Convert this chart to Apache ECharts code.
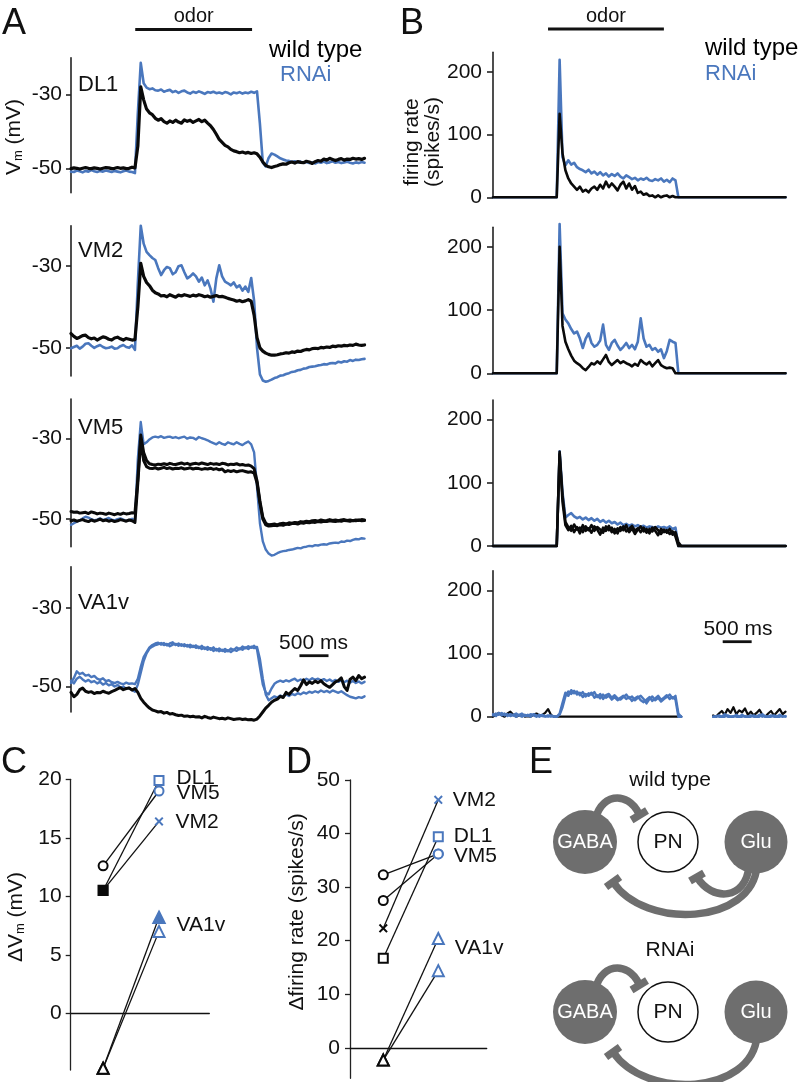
<!DOCTYPE html>
<html><head><meta charset="utf-8">
<script src="https://cdn.jsdelivr.net/npm/echarts@6/dist/echarts.min.js"></script>
<style>html,body{margin:0;padding:0;background:#fff}#c{width:799px;height:1082px}</style>
</head><body><div id="c"></div>
<script>
// ---------- DATA (sampled traces, 50 ms per sample) ----------
const A_TICKS = [-50, -30];
const B_TICKS = [0, 100, 200];
const C_TICKS = [0, 5, 10, 15, 20];
const D_TICKS = [0, 10, 20, 30, 40, 50];
const ROW_NAMES = ['DL1', 'VM2', 'VM5', 'VA1v'];

const A_DL1_WT = [
-50.1,-49.9,-50.0,-50.2,-50.0,-49.8,-50.0,-50.1,-49.9,-50.0,
-50.2,-50.0,-49.8,-49.9,-50.1,-50.0,-49.8,-50.0,-49.9,-50.1,
-50.0,-49.7,-49.9,-44.0,-28.0,-31.5,-34.0,-35.0,-35.5,-36.5,
-37.0,-36.6,-37.4,-37.8,-37.2,-37.6,-37.0,-37.5,-37.8,-36.9,
-37.3,-37.0,-37.6,-37.2,-36.8,-37.4,-37.0,-37.8,-38.5,-39.5,
-40.8,-42.2,-43.0,-43.8,-44.2,-44.9,-45.3,-45.5,-45.8,-45.6,
-45.9,-45.7,-46.0,-45.8,-46.1,-47.0,-48.3,-49.2,-49.6,-49.8,
-49.5,-49.3,-49.0,-48.8,-48.9,-48.5,-48.3,-48.6,-48.2,-48.4,
-48.5,-48.1,-48.3,-48.7,-48.2,-47.9,-48.1,-47.5,-47.8,-47.3,
-47.6,-47.9,-47.6,-47.4,-47.8,-47.5,-47.6,-47.3,-47.5,-47.4,
-47.6,-47.3];
const A_DL1_RNAI = [
-50.9,-51.0,-50.6,-50.8,-51.1,-50.7,-50.9,-50.5,-50.8,-51.0,
-50.7,-50.9,-50.6,-50.8,-51.0,-50.7,-50.9,-51.1,-50.8,-50.6,
-50.9,-51.0,-51.3,-35.0,-21.5,-27.0,-28.2,-28.6,-28.4,-28.9,
-29.0,-28.7,-29.3,-29.0,-28.8,-29.4,-29.1,-29.6,-29.2,-29.0,
-29.5,-29.8,-29.3,-29.6,-29.2,-29.5,-29.9,-29.4,-29.6,-29.3,
-29.7,-29.5,-29.8,-29.4,-29.6,-30.0,-29.5,-29.7,-29.4,-29.8,
-29.5,-29.7,-29.3,-29.6,-29.2,-38.0,-48.5,-49.5,-47.2,-46.0,
-46.3,-46.8,-47.3,-47.6,-47.9,-48.0,-48.3,-48.1,-48.4,-48.2,
-48.5,-48.3,-48.6,-48.4,-48.7,-48.3,-48.5,-48.2,-48.6,-48.4,
-48.1,-48.5,-48.3,-48.6,-48.4,-48.2,-48.5,-48.7,-48.4,-48.6,
-48.3,-48.5];
const A_VM2_WT = [
-46.5,-47.2,-47.7,-47.4,-47.0,-46.9,-47.5,-47.8,-47.6,-48.1,
-47.7,-47.3,-47.5,-47.9,-48.1,-47.6,-47.4,-47.8,-48.1,-47.7,
-47.9,-48.1,-48.0,-40.0,-29.3,-32.5,-34.0,-34.8,-35.9,-36.5,
-36.8,-37.3,-37.2,-37.5,-37.0,-37.3,-37.6,-37.1,-37.3,-37.0,
-37.2,-37.4,-37.1,-37.3,-37.0,-37.2,-37.5,-37.3,-37.6,-37.4,
-37.2,-37.5,-37.4,-37.6,-37.9,-38.1,-38.3,-38.6,-38.4,-38.7,
-38.5,-38.2,-38.6,-42.0,-47.5,-50.0,-50.8,-51.3,-51.6,-51.8,
-51.8,-51.7,-51.5,-51.4,-51.2,-51.3,-51.0,-51.1,-50.8,-50.9,
-50.6,-50.4,-50.5,-50.2,-50.1,-50.2,-49.9,-50.0,-49.8,-49.9,
-49.6,-49.7,-49.5,-49.6,-49.4,-49.5,-49.3,-49.4,-49.1,-49.3,
-49.4,-49.3];
const A_VM2_RNAI = [
-50.1,-49.8,-49.5,-50.2,-49.7,-49.0,-48.9,-49.5,-50.0,-49.6,
-49.3,-49.8,-50.1,-50.0,-49.7,-50.2,-50.1,-49.6,-49.3,-49.8,
-50.0,-49.4,-50.5,-34.0,-20.1,-24.5,-26.5,-27.3,-28.0,-28.5,
-30.5,-32.2,-31.0,-30.2,-30.5,-32.0,-31.5,-30.0,-29.8,-31.5,
-33.0,-32.5,-31.8,-32.5,-33.8,-32.8,-34.7,-33.5,-35.5,-38.7,
-33.0,-29.8,-32.5,-33.8,-34.2,-34.7,-34.0,-35.2,-34.7,-36.0,
-35.0,-36.3,-32.9,-38.5,-50.0,-56.5,-58.0,-58.3,-58.1,-57.8,
-57.4,-57.2,-56.8,-56.7,-56.4,-56.2,-55.9,-55.8,-55.5,-55.4,
-55.1,-55.0,-54.7,-54.6,-54.5,-54.3,-54.2,-54.0,-54.1,-53.8,
-53.7,-53.8,-53.4,-53.6,-53.3,-53.4,-53.0,-53.2,-52.9,-53.0,
-52.8,-52.7];
const A_VM5_RNAI = [
-51.4,-51.0,-50.6,-50.3,-49.8,-49.4,-49.6,-50.0,-50.3,-50.1,
-49.8,-50.2,-50.0,-49.7,-50.1,-50.3,-50.0,-49.8,-50.1,-50.4,
-50.2,-49.9,-50.5,-35.0,-26.0,-31.5,-31.0,-30.3,-29.8,-29.6,
-29.8,-29.5,-29.9,-29.7,-29.6,-29.9,-29.7,-30.0,-29.8,-29.6,
-30.1,-29.8,-29.9,-30.3,-29.7,-30.0,-30.2,-30.5,-30.9,-31.2,
-31.5,-31.0,-31.4,-31.6,-31.0,-31.3,-31.5,-31.0,-31.4,-31.7,
-31.2,-30.8,-31.5,-33.5,-42.0,-51.0,-55.5,-57.5,-58.5,-59.0,
-58.8,-58.4,-58.1,-57.9,-57.8,-57.6,-57.5,-57.3,-57.1,-57.2,
-56.9,-56.8,-56.6,-56.7,-56.4,-56.5,-56.3,-56.2,-56.3,-56.0,
-55.9,-55.8,-55.9,-55.5,-55.6,-55.3,-55.4,-55.1,-54.9,-55.0,
-54.7,-54.8];
const A_VM5_WT1 = [
-48.1,-48.3,-48.2,-48.5,-48.4,-48.3,-48.6,-48.2,-48.4,-48.7,
-48.5,-48.6,-48.8,-48.5,-48.7,-48.9,-48.6,-48.8,-48.5,-48.7,
-48.6,-48.4,-48.5,-40.0,-29.2,-33.5,-35.5,-36.3,-36.5,-36.6,
-36.4,-36.5,-36.3,-36.5,-36.2,-36.4,-36.5,-36.3,-36.1,-36.4,
-36.2,-36.5,-36.3,-36.2,-36.4,-36.1,-36.3,-36.5,-36.2,-36.4,
-36.3,-36.5,-36.2,-36.3,-36.6,-36.4,-36.5,-36.3,-36.6,-36.5,
-36.7,-36.6,-36.9,-37.5,-40.5,-45.5,-49.5,-51.0,-51.4,-51.3,
-51.2,-51.4,-51.1,-51.0,-51.2,-50.9,-51.0,-50.8,-50.9,-50.6,
-50.7,-50.5,-50.6,-50.4,-50.3,-50.5,-50.2,-50.4,-50.3,-50.1,
-50.3,-50.2,-50.4,-50.2,-50.1,-50.3,-50.2,-50.4,-50.2,-50.3,
-50.1,-50.2];
const A_VM5_WT2 = [
-50.4,-50.2,-50.5,-50.3,-50.1,-50.4,-50.6,-50.2,-50.5,-50.3,
-50.0,-50.4,-50.2,-50.5,-50.3,-50.6,-50.4,-50.1,-50.3,-50.5,
-50.2,-50.4,-50.8,-41.0,-30.5,-35.5,-37.0,-37.4,-37.5,-37.3,
-37.6,-37.4,-37.2,-37.5,-37.3,-37.6,-37.4,-37.5,-37.3,-37.6,
-37.5,-37.3,-37.6,-37.4,-37.5,-37.7,-37.5,-37.6,-37.4,-37.7,
-37.5,-37.8,-37.6,-38.3,-38.0,-38.2,-38.0,-38.3,-38.1,-38.0,
-38.2,-38.4,-38.3,-38.6,-41.0,-46.0,-50.0,-51.4,-51.7,-51.6,
-51.5,-51.6,-51.4,-51.5,-51.2,-51.3,-51.1,-51.0,-51.2,-50.9,
-51.0,-50.8,-50.9,-50.7,-50.8,-50.6,-50.7,-50.5,-50.6,-50.4,
-50.5,-50.6,-50.4,-50.5,-50.3,-50.4,-50.5,-50.3,-50.4,-50.2,
-50.4,-50.3];
const A_VA1V_WT = [
-51.5,-52.6,-52.0,-50.8,-50.4,-51.2,-51.5,-51.3,-51.8,-51.5,
-51.6,-51.2,-51.5,-51.7,-51.3,-51.0,-50.6,-50.3,-50.8,-50.5,
-50.4,-50.9,-50.5,-51.5,-53.0,-54.0,-54.8,-55.5,-56.0,-56.2,
-56.5,-56.4,-56.8,-56.6,-57.0,-56.9,-57.2,-57.4,-57.3,-57.6,
-57.5,-57.7,-57.6,-57.8,-57.7,-58.0,-57.6,-57.9,-58.1,-57.8,
-58.0,-58.2,-58.1,-58.3,-58.0,-58.2,-58.4,-58.3,-58.2,-58.4,
-58.3,-58.5,-58.4,-58.6,-58.3,-57.5,-56.5,-55.5,-54.8,-54.0,
-53.5,-53.2,-52.5,-52.8,-51.5,-52.0,-51.2,-50.5,-51.0,-49.8,
-48.3,-49.5,-48.8,-49.2,-48.6,-49.0,-48.5,-49.3,-49.8,-50.2,
-49.5,-48.8,-48.5,-47.8,-50.0,-51.0,-48.2,-47.6,-48.5,-47.2,
-48.0,-47.6];
const A_VA1V_RNAI1 = [
-49.1,-47.8,-46.1,-46.8,-46.5,-47.2,-47.0,-47.6,-47.3,-48.0,
-48.3,-47.9,-48.6,-48.4,-48.9,-49.1,-48.8,-49.2,-49.4,-49.0,
-49.3,-49.2,-49.4,-48.0,-45.0,-42.5,-41.2,-40.0,-39.4,-39.0,
-38.8,-39.3,-38.9,-39.5,-39.0,-38.7,-39.4,-39.0,-39.6,-39.2,
-39.8,-39.3,-39.9,-39.5,-40.2,-39.6,-40.4,-39.9,-40.6,-40.0,
-40.8,-40.3,-40.9,-40.4,-41.0,-40.3,-40.7,-40.0,-40.5,-39.8,
-40.2,-39.7,-40.1,-39.6,-40.5,-45.0,-49.5,-51.5,-52.0,-50.5,
-49.3,-48.8,-48.5,-48.8,-48.4,-48.7,-48.3,-48.0,-48.6,-48.2,
-48.5,-48.0,-48.4,-47.9,-48.3,-48.0,-48.4,-48.1,-48.6,-48.2,
-48.7,-48.3,-48.8,-48.4,-48.9,-48.5,-49.0,-48.6,-49.1,-48.7,
-49.2,-48.8];
const A_VA1V_RNAI2 = [
-48.5,-49.2,-48.0,-47.5,-48.2,-48.7,-48.3,-48.9,-48.6,-49.2,
-48.8,-49.5,-49.1,-49.7,-49.4,-50.0,-49.6,-50.3,-50.0,-50.6,
-50.3,-50.9,-51.3,-49.5,-46.5,-43.5,-41.5,-40.3,-39.8,-39.4,
-39.2,-38.9,-39.4,-39.1,-39.7,-39.3,-39.1,-39.6,-39.2,-39.7,
-39.4,-40.0,-39.6,-40.1,-39.8,-40.4,-40.0,-40.6,-40.2,-40.9,
-40.4,-41.0,-40.6,-41.1,-40.7,-41.2,-40.6,-40.9,-40.3,-40.6,
-40.0,-40.4,-39.8,-40.2,-39.9,-43.0,-48.0,-52.0,-53.5,-53.0,
-52.5,-52.8,-52.3,-52.6,-52.0,-52.4,-51.9,-52.2,-51.7,-52.0,
-51.5,-51.8,-51.3,-51.6,-51.2,-51.5,-51.0,-51.4,-51.1,-51.5,
-51.0,-51.3,-51.6,-51.2,-51.7,-52.2,-52.6,-52.8,-53.0,-52.7,
-52.9,-52.5];

const B_DL1_WT = [
0,0,0,0,0,0,0,0,0,0, 0,0,0,0,0,0,0,0,0,0,
0,0,0,133,70,43,30,22,17,12,
17,9,12,8,14,17,12,20,14,25,
16,22,17,11,20,25,14,22,12,18,
7,9,4,6,2,3,0,3,0,2,
3,0,2,0,0,0,0,0,0,0,
0,0,0,0,0,0,0,0,0,0, 0,0,0,0,0,0,0,0,0,0, 0,0,0,0,0,0,0,0,0,0, 0,0];
const B_DL1_RNAI = [
0,0,0,0,0,0,0,0,0,0, 0,0,0,0,0,0,0,0,0,0,
0,0,0,219,64,51,59,52,55,48,
45,43,40,44,38,41,36,40,35,38,
33,37,34,38,33,30,35,32,29,31,
27,30,28,31,27,26,29,27,30,25,
28,24,30,27,0,0,0,0,0,0,
0,0,0,0,0,0,0,0,0,0, 0,0,0,0,0,0,0,0,0,0, 0,0,0,0,0,0,0,0,0,0, 0,0];
const B_VM2_WT = [
0,0,0,0,0,0,0,0,0,0, 0,0,0,0,0,0,0,0,0,0,
0,0,0,200,75,50,38,28,20,16,
13,8,5,10,16,14,19,15,22,29,
18,13,17,21,16,19,16,14,11,15,
12,21,17,14,18,11,16,21,13,10,
8,9,8,0,0,0,0,0,0,0,
0,0,0,0,0,0,0,0,0,0, 0,0,0,0,0,0,0,0,0,0, 0,0,0,0,0,0,0,0,0,0, 0,0];
const B_VM2_RNAI = [
0,0,0,0,0,0,0,0,0,0, 0,0,0,0,0,0,0,0,0,0,
0,0,0,236,95,85,79,70,63,66,
55,40,55,63,48,42,45,52,77,45,
37,48,53,44,37,42,48,40,45,38,
50,87,55,42,45,37,40,34,38,24,
35,53,50,48,0,0,0,0,0,0,
0,0,0,0,0,0,0,0,0,0, 0,0,0,0,0,0,0,0,0,0, 0,0,0,0,0,0,0,0,0,0, 0,0];
const B_VM5_WT1 = [
0,0,0,0,0,0,0,0,0,0, 0,0,0,0,0,0,0,0,0,0,
0,0,0,149,70,33,25,32,22,30,
20,33,24,28,21,31,26,18,29,24,
32,22,27,20,30,25,33,22,28,19,
26,31,23,27,20,29,24,17,27,22,
25,19,23,15,0,0,0,0,0,0,
0,0,0,0,0,0,0,0,0,0, 0,0,0,0,0,0,0,0,0,0, 0,0,0,0,0,0,0,0,0,0, 0,0];
const B_VM5_WT2 = [
0,0,0,0,0,0,0,0,0,0, 0,0,0,0,0,0,0,0,0,0,
0,0,0,145,80,38,30,24,34,26,
29,22,31,25,33,24,30,26,21,31,
25,29,20,28,24,31,23,27,32,24,
28,22,29,21,27,23,30,25,19,26,
21,27,18,22,6,0,0,0,0,0,
0,0,0,0,0,0,0,0,0,0, 0,0,0,0,0,0,0,0,0,0, 0,0,0,0,0,0,0,0,0,0, 0,0];
const B_VM5_RNAI = [
0,0,0,0,0,0,0,0,0,0, 0,0,0,0,0,0,0,0,0,0,
0,0,0,150,85,45,49,52,47,44,
46,42,45,41,44,40,43,38,41,37,
40,36,38,34,37,33,35,32,34,31,
33,30,32,29,31,30,28,31,29,30,
28,31,27,29,0,0,0,0,0,0,
0,0,0,0,0,0,0,0,0,0, 0,0,0,0,0,0,0,0,0,0, 0,0,0,0,0,0,0,0,0,0, 0,0];
const B_VA1V_WT = [
0,3,6,2,0,5,8,3,0,2,
4,0,1,0,3,5,2,3,6,12,
3,0,0,0,0,0,0,0,0,0,
0,0,0,0,0,0,0,0,0,0,
0,0,0,0,0,0,0,0,0,0,
0,0,0,0,0,0,0,0,0,0,
0,0,0,0,0,0,null,null,null,null,
null,null,null,null,null,null,2,0,5,9,
3,12,6,15,4,10,7,13,3,8,
2,6,11,3,0,5,9,2,7,12,
4,8];
const B_VA1V_RNAI1 = [
2,5,3,6,2,4,1,3,5,2,
0,3,1,4,2,0,3,1,0,2,
0,1,0,3,15,32,40,36,41,35,
38,31,36,33,38,30,34,29,35,30,
33,27,31,26,30,33,28,31,25,29,
32,26,23,27,31,25,29,33,27,30,
34,28,31,27,0,0,null,null,null,null,
null,null,null,null,null,null,0,0,2,0,
4,0,0,1,0,0,3,0,0,0,
2,0,0,4,0,0,2,0,0,3,
0,1];
const B_VA1V_RNAI2 = [
4,1,6,2,5,1,4,2,0,3,
5,1,3,0,4,2,0,3,1,0,
2,0,0,5,22,38,33,42,37,40,
34,39,32,37,35,39,31,36,28,34,
36,30,34,29,27,31,35,29,32,26,
30,33,28,21,28,32,26,30,24,28,
31,35,29,33,5,0,null,null,null,null,
null,null,null,null,null,null,0,1,0,0,
0,2,0,0,3,0,0,1,0,2,
0,0,3,0,1,0,0,2,0,0,
1,0];

// odor window and 500 ms scale bar, in samples
const ODOR_A = [22.1, 62.3];
const ODOR_B = [19.0, 59.0];
const SCALE_A = [78.6, 88.6];
const SCALE_B = [79.3, 89.3];

// Panel C: ΔVm (mV), wild type vs RNAi
const C_CELLS = ['VM2', 'DL1', 'VM5', 'VA1v', 'VA1v'];
const C_WT   = [10.5, 10.5, 12.6, -4.7, -4.7];
const C_RNAI = [16.4, 19.9, 19.0, 8.2, 7.0];
// Panel D: Δfiring rate (spikes/s)
const D_CELLS = ['VM5', 'VM5', 'VM2', 'DL1', 'VA1v', 'VA1v'];
const D_WT   = [32.3, 27.5, 22.3, 16.7, -2.3, -2.3];
const D_RNAI = [36.2, 36.2, 46.3, 39.4, 20.4, 14.4];

// ---------- STYLE / LAYOUT ----------
const FONT = "'Liberation Sans', Arial, Helvetica, sans-serif";
const BLUE = '#4a77bd';
const BLACK = '#0a0a0a';
const GRAY = '#6e6e6e';
const X_MAX = 101.5;
const A_LAYOUT = [[57.7, 135], [225.7, 150.3], [399, 147.7], [566.7, 145.3]];
const A_RANGE = [[-56.6, -20.1], [-56.9, -20.1], [-56.8, -20.3], [-56.5, -19.4]];
const B_LAYOUT = [[52.3, 145], [227.3, 146], [400, 146], [570.7, 146]];
const B_MAX = 231;

const grids = [], xAxes = [], yAxes = [], series = [];

function yAx(gi, min, max, ticks, margin, tickLen, lw) {
  return {
    gridIndex: gi, type: 'value', min: min, max: max,
    axisLine: { show: true, onZero: false, lineStyle: { color: '#222', width: lw } },
    axisTick: { show: true, customValues: ticks, length: tickLen, lineStyle: { color: '#222', width: lw } },
    axisLabel: { show: true, customValues: ticks, margin: margin, fontSize: 21, color: '#111', fontFamily: FONT },
    splitLine: { show: false }
  };
}
A_LAYOUT.forEach((g, k) => {
  grids.push({ left: 71, top: g[0], width: 295, height: g[1], containLabel: false, outerBoundsMode: 'none' });
  xAxes.push({ gridIndex: k, type: 'value', min: 0, max: X_MAX, show: false });
  yAxes.push(yAx(k, A_RANGE[k][0], A_RANGE[k][1], A_TICKS, 9, 5, 1.6));
});
B_LAYOUT.forEach((g, k) => {
  const gi = k + 4;
  grids.push({ left: 493, top: g[0], width: 294, height: g[1], containLabel: false, outerBoundsMode: 'none' });
  xAxes.push({ gridIndex: gi, type: 'value', min: 0, max: X_MAX, show: false });
  yAxes.push(yAx(gi, 0, B_MAX, B_TICKS, 11, 6, 1.6));
});
// C
grids.push({ left: 70.7, top: 779.3, width: 138.6, height: 290.7, containLabel: false, outerBoundsMode: 'none' });
xAxes.push({ gridIndex: 8, type: 'value', min: 0.42, max: 2.9,
  axisLine: { show: true, onZero: true, lineStyle: { color: '#111', width: 1.3 } },
  axisTick: { show: false }, axisLabel: { show: false }, splitLine: { show: false } });
yAxes.push(yAx(8, -4.85, 20, C_TICKS, 9, 5, 1.3));
// D
grids.push({ left: 350, top: 780, width: 136.7, height: 298.3, containLabel: false, outerBoundsMode: 'none' });
xAxes.push({ gridIndex: 9, type: 'value', min: 0.395, max: 2.88,
  axisLine: { show: true, onZero: true, lineStyle: { color: '#111', width: 1.3 } },
  axisTick: { show: false }, axisLabel: { show: false }, splitLine: { show: false } });
yAxes.push(yAx(9, -5.7, 50, D_TICKS, 10, 5, 1.3));

function trace(gi, arr, color, width) {
  return {
    type: 'line', xAxisIndex: gi, yAxisIndex: gi,
    data: arr.map((v, i) => [i, v === null ? '-' : v]),
    symbol: 'none', showSymbol: false, connectNulls: false, clip: false, silent: true,
    lineStyle: { color: color, width: width, join: 'round', cap: 'round' }
  };
}
// A traces
series.push(trace(0, A_DL1_RNAI, BLUE, 2.6), trace(0, A_DL1_WT, BLACK, 3.2));
series.push(trace(1, A_VM2_RNAI, BLUE, 2.6), trace(1, A_VM2_WT, BLACK, 3.2));
series.push(trace(2, A_VM5_RNAI, BLUE, 2.4), trace(2, A_VM5_WT1, BLACK, 3), trace(2, A_VM5_WT2, BLACK, 3));
series.push(trace(3, A_VA1V_RNAI1, BLUE, 2.4), trace(3, A_VA1V_RNAI2, BLUE, 2.4), trace(3, A_VA1V_WT, BLACK, 3));
// B traces
series.push(trace(4, B_DL1_RNAI, BLUE, 2.6), trace(4, B_DL1_WT, BLACK, 2.6));
series.push(trace(5, B_VM2_RNAI, BLUE, 2.6), trace(5, B_VM2_WT, BLACK, 2.6));
series.push(trace(6, B_VM5_RNAI, BLUE, 2.6), trace(6, B_VM5_WT1, BLACK, 2.6), trace(6, B_VM5_WT2, BLACK, 2.6));
series.push(trace(7, B_VA1V_WT, BLACK, 2.2), trace(7, B_VA1V_RNAI1, BLUE, 2.4), trace(7, B_VA1V_RNAI2, BLUE, 2.4));

// Markers for panels C and D
const XPATH = 'path://M0,1.6L1.6,0L5,3.4L8.4,0L10,1.6L6.6,5L10,8.4L8.4,10L5,6.6L1.6,10L0,8.4L3.4,5Z';
function marker(cell, filled) {
  if (cell === 'VM2') return { symbol: XPATH, size: 9, border: 0 };
  const base = cell === 'DL1' ? 'rect' : cell === 'VM5' ? 'circle' : 'triangle';
  const size = base === 'triangle' ? 11 : 9;
  return { symbol: filled ? base : 'empty' + base.charAt(0).toUpperCase() + base.slice(1), size: size, border: 2.2 };
}
function pair(gi, cell, wt, rn, wtFilled, rnFilled, labelOpt) {
  const mw = marker(cell, wtFilled), mr = marker(cell, rnFilled);
  const rnItem = { value: [2, rn], symbol: mr.symbol, symbolSize: mr.size,
    itemStyle: { color: BLUE, borderColor: BLUE, borderWidth: mr.border } };
  if (labelOpt) {
    rnItem.label = { show: true, position: 'right', distance: labelOpt.d, offset: [0, labelOpt.dy],
      formatter: cell, fontSize: 21, color: '#111', fontFamily: FONT };
  }
  return {
    type: 'line', xAxisIndex: gi, yAxisIndex: gi, silent: true, clip: false,
    lineStyle: { color: '#111', width: 1.3 }, showSymbol: true, z: 5,
    data: [
      { value: [1, wt], symbol: mw.symbol, symbolSize: mw.size,
        itemStyle: { color: BLACK, borderColor: BLACK, borderWidth: mw.border } },
      rnItem
    ]
  };
}
// C: order so the filled DL1 square sits on top of the VM2 cross
series.push(pair(8, 'VM2', C_WT[0], C_RNAI[0], false, false, { d: 12, dy: 1 }));
series.push(pair(8, 'DL1', C_WT[1], C_RNAI[1], true, false, { d: 12, dy: -2 }));
series.push(pair(8, 'VM5', C_WT[2], C_RNAI[2], false, false, { d: 12, dy: 2 }));
series.push(pair(8, 'VA1v', C_WT[3], C_RNAI[3], false, true, { d: 11, dy: 8 }));
series.push(pair(8, 'VA1v', C_WT[4], C_RNAI[4], false, false, null));
// D
series.push(pair(9, 'VM5', D_WT[0], D_RNAI[0], false, false, { d: 10, dy: 2 }));
series.push(pair(9, 'VM5', D_WT[1], D_RNAI[1], false, false, null));
series.push(pair(9, 'VM2', D_WT[2], D_RNAI[2], false, false, { d: 10, dy: 0 }));
series.push(pair(9, 'DL1', D_WT[3], D_RNAI[3], false, false, { d: 10, dy: -1 }));
series.push(pair(9, 'VA1v', D_WT[4], D_RNAI[4], false, false, { d: 10, dy: 10 }));
series.push(pair(9, 'VA1v', D_WT[5], D_RNAI[5], false, false, null));

const chart = echarts.init(document.getElementById('c'), null, { renderer: 'canvas', width: 799, height: 1082 });
chart.setOption({
  animation: false, backgroundColor: '#fff',
  grid: grids, xAxis: xAxes, yAxis: yAxes, series: series
});

// ---------- annotations ----------
function txt(x, y, text, size, extra) {
  return Object.assign({ type: 'text', x: x, y: y, silent: true,
    style: Object.assign({ text: text, fontSize: size, fontFamily: FONT, fill: '#111', align: 'center', verticalAlign: 'middle' }, (extra && extra.style) || {}) },
    extra && extra.rotation ? { rotation: extra.rotation } : {});
}
function hline(x1, x2, y, w, color) {
  return { type: 'line', silent: true, shape: { x1: x1, y1: y, x2: x2, y2: y }, style: { stroke: color || '#111', lineWidth: w } };
}
const px = (gi, v) => chart.convertToPixel({ xAxisIndex: gi }, v);
const els = [];
// panel letters
els.push(txt(14, 24, 'A', 36), txt(412, 24, 'B', 36), txt(14, 763, 'C', 36), txt(299, 763, 'D', 36), txt(541, 763, 'E', 36));
// odor bars
els.push(txt((px(0, ODOR_A[0]) + px(0, ODOR_A[1])) / 2, 16, 'odor', 20));
els.push(hline(px(0, ODOR_A[0]), px(0, ODOR_A[1]), 29.5, 2.8));
els.push(txt((px(4, ODOR_B[0]) + px(4, ODOR_B[1])) / 2, 16, 'odor', 20));
els.push(hline(px(4, ODOR_B[0]), px(4, ODOR_B[1]), 29, 2.8));
// legends
els.push(txt(269, 50, 'wild type', 24, { style: { align: 'left', fill: '#000' } }));
els.push(txt(280, 75, 'RNAi', 22, { style: { align: 'left', fill: BLUE } }));
els.push(txt(705, 48, 'wild type', 24, { style: { align: 'left', fill: '#000' } }));
els.push(txt(705, 74, 'RNAi', 22, { style: { align: 'left', fill: BLUE } }));
// row names
const ROW_Y = [85, 251, 428, 603];
ROW_NAMES.forEach((n, k) => els.push(txt(78, ROW_Y[k], n, 22, { style: { align: 'left' } })));
// scale bars
els.push(txt(313.5, 643, '500 ms', 21));
els.push(hline(px(3, SCALE_A[0]), px(3, SCALE_A[1]), 655.7, 2.8));
els.push(txt(738, 629, '500 ms', 21));
els.push(hline(px(7, SCALE_B[0]), px(7, SCALE_B[1]), 641.7, 2.8));
// axis titles
const subRich = { a: { fontSize: 21, fontFamily: FONT, fill: '#111' }, b: { fontSize: 13, fontFamily: FONT, fill: '#111', verticalAlign: 'bottom', padding: [6, 0, 0, 0] } };
els.push(txt(14, 137, '{a|V}{b|m}{a| (mV)}', 21, { rotation: Math.PI / 2, style: { rich: subRich } }));
els.push(txt(423, 142, 'firing rate\n(spikes/s)', 21, { rotation: Math.PI / 2, style: { lineHeight: 21 } }));
els.push(txt(16, 917, '{a|ΔV}{b|m}{a| (mV)}', 21, { rotation: Math.PI / 2, style: { rich: subRich } }));
els.push(txt(297, 912, 'Δfiring rate (spikes/s)', 21, { rotation: Math.PI / 2 }));

// panel E diagrams
function diagram(dy, withGluPN, title) {
  const out = [];
  const arrow = (x1, y1, c1x, c1y, c2x, c2y, x2, y2, b) => {
    out.push({ type: 'bezierCurve', silent: true, shape: { x1: x1, y1: y1 + dy, cpx1: c1x, cpy1: c1y + dy, cpx2: c2x, cpy2: c2y + dy, x2: x2, y2: y2 + dy },
      style: { stroke: GRAY, lineWidth: 7.5, fill: null } });
    out.push({ type: 'line', silent: true, shape: { x1: b[0], y1: b[1] + dy, x2: b[2], y2: b[3] + dy }, style: { stroke: GRAY, lineWidth: 7.5 } });
  };
  out.push(txt(670, 780 + dy, title, 21));
  arrow(594, 826, 598, 792, 628, 790, 639, 814, [631.5, 820, 647, 810.5]);
  arrow(757, 866, 752, 925, 645, 930, 613, 882, [606, 887, 620, 877]);
  if (withGluPN) arrow(749, 866, 746, 900, 712, 902, 697, 877, [690, 881, 704, 873]);
  out.push({ type: 'circle', silent: true, shape: { cx: 585, cy: 842 + dy, r: 32 }, style: { fill: GRAY } });
  out.push({ type: 'circle', silent: true, shape: { cx: 668, cy: 842 + dy, r: 30 }, style: { fill: '#fff', stroke: '#111', lineWidth: 1.5 } });
  out.push({ type: 'circle', silent: true, shape: { cx: 756, cy: 842 + dy, r: 31.5 }, style: { fill: GRAY } });
  out.push(txt(585, 842 + dy, 'GABA', 20, { style: { fill: '#fff' } }));
  out.push(txt(668, 842 + dy, 'PN', 21));
  out.push(txt(756, 842 + dy, 'Glu', 20, { style: { fill: '#fff' } }));
  return out;
}
diagram(0, true, 'wild type').forEach(e => els.push(e));
diagram(170, false, 'RNAi').forEach(e => els.push(e));

chart.setOption({ graphic: { elements: els } });
</script></body></html>
